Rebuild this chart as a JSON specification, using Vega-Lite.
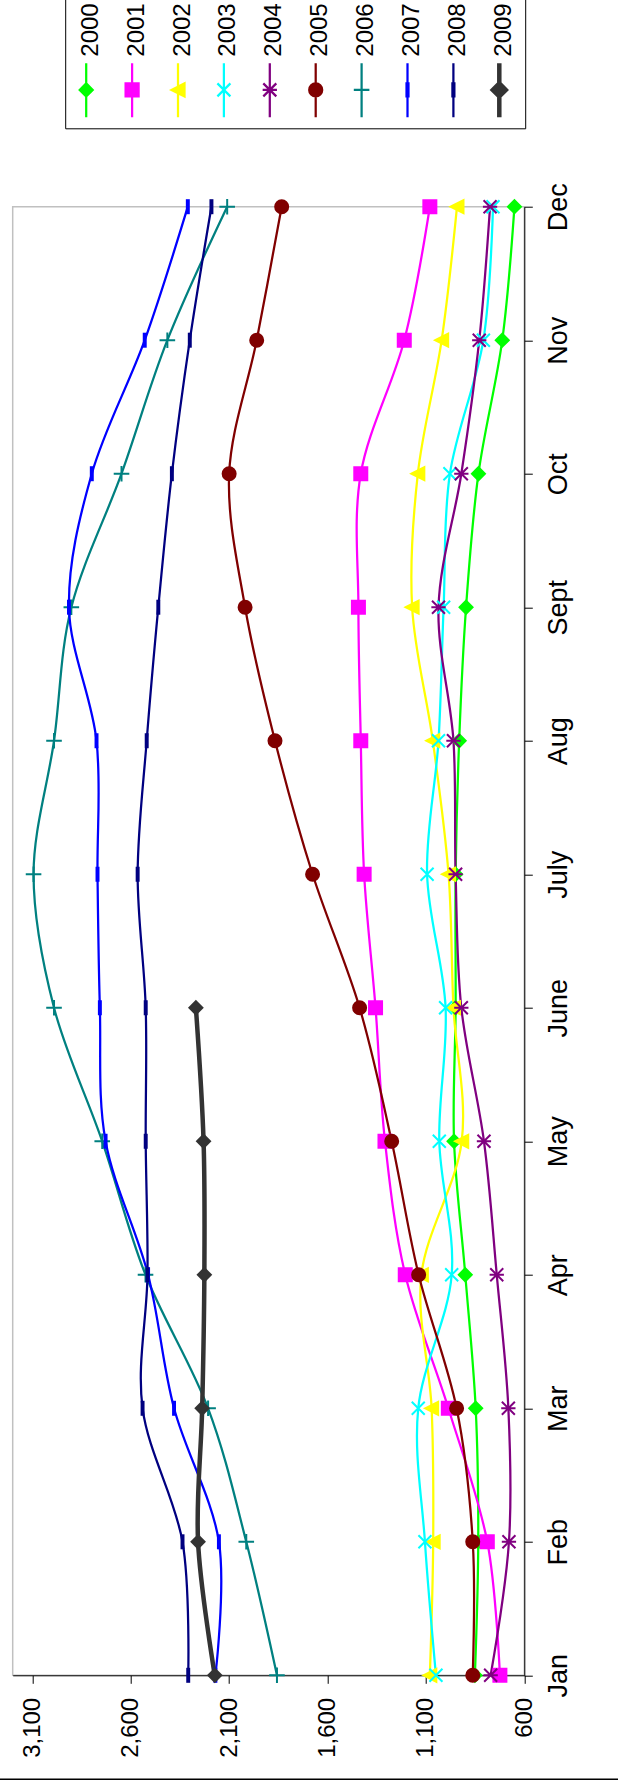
{
 "$schema": "https://vega.github.io/schema/vega-lite/v6.json",
 "width": 511.6,
 "height": 1468.6,
 "autosize": {"type": "none"},
 "padding": {"left": 12.7, "top": 206.7, "right": 93.7, "bottom": 112.7},
 "background": "white",
 "config": {"font": "Liberation Sans", "view": {"stroke": "#c0c0c0", "strokeWidth": 1.5}},
 "data": {"values": [
  {"s":"2000","month":"Jan","m":1,"v":851},{"s":"2000","month":"Feb","m":2,"v":834},{"s":"2000","month":"Mar","m":3,"v":847},{"s":"2000","month":"Apr","m":4,"v":900},{"s":"2000","month":"May","m":5,"v":957},{"s":"2000","month":"June","m":6,"v":949},{"s":"2000","month":"July","m":7,"v":949},{"s":"2000","month":"Aug","m":8,"v":931},{"s":"2000","month":"Sept","m":9,"v":896},{"s":"2000","month":"Oct","m":10,"v":833},{"s":"2000","month":"Nov","m":11,"v":712},{"s":"2000","month":"Dec","m":12,"v":650},
  {"s":"2001","month":"Jan","m":1,"v":724},{"s":"2001","month":"Feb","m":2,"v":788},{"s":"2001","month":"Mar","m":3,"v":986},{"s":"2001","month":"Apr","m":4,"v":1205},{"s":"2001","month":"May","m":5,"v":1308},{"s":"2001","month":"June","m":6,"v":1356},{"s":"2001","month":"July","m":7,"v":1414},{"s":"2001","month":"Aug","m":8,"v":1431},{"s":"2001","month":"Sept","m":9,"v":1443},{"s":"2001","month":"Oct","m":10,"v":1431},{"s":"2001","month":"Nov","m":11,"v":1210},{"s":"2001","month":"Dec","m":12,"v":1080},
  {"s":"2002","month":"Jan","m":1,"v":1080},{"s":"2002","month":"Feb","m":2,"v":1063},{"s":"2002","month":"Mar","m":3,"v":1071},{"s":"2002","month":"Apr","m":4,"v":1123},{"s":"2002","month":"May","m":5,"v":918},{"s":"2002","month":"June","m":6,"v":960},{"s":"2002","month":"July","m":7,"v":985},{"s":"2002","month":"Aug","m":8,"v":1065},{"s":"2002","month":"Sept","m":9,"v":1170},{"s":"2002","month":"Oct","m":10,"v":1141},{"s":"2002","month":"Nov","m":11,"v":1020},{"s":"2002","month":"Dec","m":12,"v":942},
  {"s":"2003","month":"Jan","m":1,"v":1049},{"s":"2003","month":"Feb","m":2,"v":1105},{"s":"2003","month":"Mar","m":3,"v":1139},{"s":"2003","month":"Apr","m":4,"v":969},{"s":"2003","month":"May","m":5,"v":1032},{"s":"2003","month":"June","m":6,"v":1000},{"s":"2003","month":"July","m":7,"v":1094},{"s":"2003","month":"Aug","m":8,"v":1036},{"s":"2003","month":"Sept","m":9,"v":1010},{"s":"2003","month":"Oct","m":10,"v":978},{"s":"2003","month":"Nov","m":11,"v":808},{"s":"2003","month":"Dec","m":12,"v":759},
  {"s":"2004","month":"Jan","m":1,"v":771},{"s":"2004","month":"Feb","m":2,"v":678},{"s":"2004","month":"Mar","m":3,"v":681},{"s":"2004","month":"Apr","m":4,"v":740},{"s":"2004","month":"May","m":5,"v":805},{"s":"2004","month":"June","m":6,"v":920},{"s":"2004","month":"July","m":7,"v":949},{"s":"2004","month":"Aug","m":8,"v":960},{"s":"2004","month":"Sept","m":9,"v":1036},{"s":"2004","month":"Oct","m":10,"v":920},{"s":"2004","month":"Nov","m":11,"v":829},{"s":"2004","month":"Dec","m":12,"v":774},
  {"s":"2005","month":"Jan","m":1,"v":862},{"s":"2005","month":"Feb","m":2,"v":862},{"s":"2005","month":"Mar","m":3,"v":944},{"s":"2005","month":"Apr","m":4,"v":1137},{"s":"2005","month":"May","m":5,"v":1274},{"s":"2005","month":"June","m":6,"v":1437},{"s":"2005","month":"July","m":7,"v":1676},{"s":"2005","month":"Aug","m":8,"v":1867},{"s":"2005","month":"Sept","m":9,"v":2019},{"s":"2005","month":"Oct","m":10,"v":2100},{"s":"2005","month":"Nov","m":11,"v":1960},{"s":"2005","month":"Dec","m":12,"v":1833},
  {"s":"2006","month":"Jan","m":1,"v":1857},{"s":"2006","month":"Feb","m":2,"v":2013},{"s":"2006","month":"Mar","m":3,"v":2207},{"s":"2006","month":"Apr","m":4,"v":2525},{"s":"2006","month":"May","m":5,"v":2745},{"s":"2006","month":"June","m":6,"v":2990},{"s":"2006","month":"July","m":7,"v":3094},{"s":"2006","month":"Aug","m":8,"v":2990},{"s":"2006","month":"Sept","m":9,"v":2902},{"s":"2006","month":"Oct","m":10,"v":2647},{"s":"2006","month":"Nov","m":11,"v":2414},{"s":"2006","month":"Dec","m":12,"v":2110},
  {"s":"2007","month":"Jan","m":1,"v":2170},{"s":"2007","month":"Feb","m":2,"v":2152},{"s":"2007","month":"Mar","m":3,"v":2380},{"s":"2007","month":"Apr","m":4,"v":2512},{"s":"2007","month":"May","m":5,"v":2728},{"s":"2007","month":"June","m":6,"v":2757},{"s":"2007","month":"July","m":7,"v":2769},{"s":"2007","month":"Aug","m":8,"v":2774},{"s":"2007","month":"Sept","m":9,"v":2914},{"s":"2007","month":"Oct","m":10,"v":2798},{"s":"2007","month":"Nov","m":11,"v":2529},{"s":"2007","month":"Dec","m":12,"v":2310},
  {"s":"2008","month":"Jan","m":1,"v":2308},{"s":"2008","month":"Feb","m":2,"v":2337},{"s":"2008","month":"Mar","m":3,"v":2540},{"s":"2008","month":"Apr","m":4,"v":2515},{"s":"2008","month":"May","m":5,"v":2524},{"s":"2008","month":"June","m":6,"v":2524},{"s":"2008","month":"July","m":7,"v":2565},{"s":"2008","month":"Aug","m":8,"v":2519},{"s":"2008","month":"Sept","m":9,"v":2460},{"s":"2008","month":"Oct","m":10,"v":2391},{"s":"2008","month":"Nov","m":11,"v":2300},{"s":"2008","month":"Dec","m":12,"v":2190},
  {"s":"2009","month":"Jan","m":1,"v":2173},{"s":"2009","month":"Feb","m":2,"v":2258},{"s":"2009","month":"Mar","m":3,"v":2237},{"s":"2009","month":"Apr","m":4,"v":2226},{"s":"2009","month":"May","m":5,"v":2230},{"s":"2009","month":"June","m":6,"v":2269}
 ]},
 "layer": [
  {
   "transform": [{"filter": "datum.s !== '2009'"}],
   "mark": {"type": "line", "interpolate": "cardinal", "strokeWidth": 2.25},
   "encoding": {
    "x": {"field": "v", "type": "quantitative", "scale": {"domain": [600, 3200], "reverse": true, "nice": false, "zero": false},
          "axis": {"orient": "bottom", "values": [600, 1100, 1600, 2100, 2600, 3100], "labelExpr": "format(datum.value, ',')", "title": null, "grid": false,
                   "labelAngle": -90, "labelAlign": "right", "labelBaseline": "middle", "labelFontSize": 24, "labelColor": "black", "labelPadding": 14,
                   "tickSize": 8, "tickColor": "black", "domainColor": "black", "labelOverlap": false}},
    "y": {"field": "month", "type": "nominal", "scale": {"domain": ["Dec","Nov","Oct","Sept","Aug","July","June","May","Apr","Mar","Feb","Jan"], "type": "point", "padding": 0},
          "axis": {"orient": "right", "title": null, "grid": false, "labelAngle": -90, "labelAlign": "center", "labelBaseline": "top", "labelFontSize": 27, "labelColor": "black", "labelPadding": 13,
                   "tickSize": 8, "tickColor": "black", "domainColor": "black"}},
    "stroke": {"field": "s", "type": "nominal", "scale": {"domain": ["2000","2001","2002","2003","2004","2005","2006","2007","2008","2009"], "range": ["#00FF00","#FF00FF","#FFFF00","#00FFFF","#800080","#800000","#008080","#0000FF","#000080","#333333"]}, "legend": null},
    "order": {"field": "m", "type": "quantitative"}
   }
  },
  {
   "transform": [{"filter": "datum.s === '2009'"}],
   "mark": {"type": "line", "interpolate": "cardinal", "strokeWidth": 4.5},
   "encoding": {
    "x": {"field": "v", "type": "quantitative", "scale": {"domain": [600, 3200], "reverse": true, "nice": false, "zero": false},
          "axis": {"orient": "bottom", "values": [600, 1100, 1600, 2100, 2600, 3100], "labelExpr": "format(datum.value, ',')", "title": null, "grid": false,
                   "labelAngle": -90, "labelAlign": "right", "labelBaseline": "middle", "labelFontSize": 24, "labelColor": "black", "labelPadding": 14,
                   "tickSize": 8, "tickColor": "black", "domainColor": "black", "labelOverlap": false}},
    "y": {"field": "month", "type": "nominal", "scale": {"domain": ["Dec","Nov","Oct","Sept","Aug","July","June","May","Apr","Mar","Feb","Jan"], "type": "point", "padding": 0}, "axis": null},
    "stroke": {"field": "s", "type": "nominal", "scale": {"domain": ["2000","2001","2002","2003","2004","2005","2006","2007","2008","2009"], "range": ["#00FF00","#FF00FF","#FFFF00","#00FFFF","#800080","#800000","#008080","#0000FF","#000080","#333333"]}, "legend": null},
    "order": {"field": "m", "type": "quantitative"}
   }
  },
  {
   "mark": {"type": "point", "opacity": 1, "strokeWidth": 2, "size": 169},
   "encoding": {
    "x": {"field": "v", "type": "quantitative", "scale": {"domain": [600, 3200], "reverse": true, "nice": false, "zero": false},
          "axis": {"orient": "bottom", "values": [600, 1100, 1600, 2100, 2600, 3100], "labelExpr": "format(datum.value, ',')", "title": null, "grid": false,
                   "labelAngle": -90, "labelAlign": "right", "labelBaseline": "middle", "labelFontSize": 24, "labelColor": "black", "labelPadding": 14,
                   "tickSize": 8, "tickColor": "black", "domainColor": "black", "labelOverlap": false}},
    "y": {"field": "month", "type": "nominal", "scale": {"domain": ["Dec","Nov","Oct","Sept","Aug","July","June","May","Apr","Mar","Feb","Jan"], "type": "point", "padding": 0}, "axis": null},
    "fill": {"field": "s", "type": "nominal", "scale": {"domain": ["2000","2001","2002","2003","2004","2005","2006","2007","2008","2009"], "range": ["#00FF00","#FF00FF","#FFFF00","#00FFFF","#800080","#800000","#008080","#0000FF","#000080","#333333"]}, "legend": null},
    "stroke": {"field": "s", "type": "nominal", "scale": {"domain": ["2000","2001","2002","2003","2004","2005","2006","2007","2008","2009"], "range": ["#00FF00","#FF00FF","#FFFF00","#00FFFF","#800080","#800000","#008080","#0000FF","#000080","#333333"]}, "legend": null},
    "shape": {"field": "s", "type": "nominal", "scale": {"domain": ["2000","2001","2002","2003","2004","2005","2006","2007","2008","2009"],
      "range": ["M0,-1L1,0L0,1L-1,0Z", "M-1,-1L1,-1L1,1L-1,1Z", "M-1,0L1,-1L1,1Z", "M-1,-1L1,1M-1,1L1,-1", "M-1,-1L1,1M-1,1L1,-1M-1.1,0L1.1,0", "M1,0A1,1,0,1,1,-1,0A1,1,0,1,1,1,0Z", "M-1.2,0L1.2,0M0,-1.2L0,1.2", "M-0.15,-1L0.15,-1L0.15,1L-0.15,1Z", "M-0.15,-1L0.15,-1L0.15,1L-0.15,1Z", "M0,-1L1,0L0,1L-1,0Z"]}, "legend": null}
   }
  },
  {
   "mark": {"type": "point", "opacity": 0, "strokeWidth": 2, "size": 169},
   "encoding": {
    "x": {"field": "v", "type": "quantitative", "scale": {"domain": [600, 3200], "reverse": true, "nice": false, "zero": false},
          "axis": {"orient": "bottom", "values": [600, 1100, 1600, 2100, 2600, 3100], "labelExpr": "format(datum.value, ',')", "title": null, "grid": false,
                   "labelAngle": -90, "labelAlign": "right", "labelBaseline": "middle", "labelFontSize": 24, "labelColor": "black", "labelPadding": 14,
                   "tickSize": 8, "tickColor": "black", "domainColor": "black", "labelOverlap": false}},
    "y": {"field": "month", "type": "nominal", "scale": {"domain": ["Dec","Nov","Oct","Sept","Aug","July","June","May","Apr","Mar","Feb","Jan"], "type": "point", "padding": 0}, "axis": null},
    "fill": {"field": "s", "type": "nominal", "scale": {"domain": ["2000","2001","2002","2003","2004","2005","2006","2007","2008","2009"], "range": ["#00FF00","#FF00FF","#FFFF00","#00FFFF","#800080","#800000","#008080","#0000FF","#000080","#333333"]},
      "legend": {"title": null, "orient": "none", "legendX": 52.5, "legendY": -212.4, "direction": "horizontal", "columns": 10, "symbolSize": 169, "symbolOpacity": 1, "clipHeight": 116, "labelFontSize": 24, "labelColor": "black", "labelAlign": "left", "labelBaseline": "middle", "labelOffset": -7.5, "columnPadding": 16.9, "padding": 9, "strokeColor": "black", "fillColor": "white",
        "encoding": {"labels": {"angle": {"value": -90}, "dx": {"value": 4.6}}, "symbols": {"strokeWidth": {"value": {"expr": "datum.value === '2009' ? 4.5 : 2.25"}}}}}},
    "stroke": {"field": "s", "type": "nominal", "scale": {"domain": ["2000","2001","2002","2003","2004","2005","2006","2007","2008","2009"], "range": ["#00FF00","#FF00FF","#FFFF00","#00FFFF","#800080","#800000","#008080","#0000FF","#000080","#333333"]},
      "legend": {"title": null, "orient": "none", "legendX": 52.5, "legendY": -212.4, "direction": "horizontal", "columns": 10, "symbolSize": 169, "symbolOpacity": 1, "clipHeight": 116, "labelFontSize": 24, "labelColor": "black", "labelAlign": "left", "labelBaseline": "middle", "labelOffset": -7.5, "columnPadding": 16.9, "padding": 9, "strokeColor": "black", "fillColor": "white",
        "encoding": {"labels": {"angle": {"value": -90}, "dx": {"value": 4.6}}, "symbols": {"strokeWidth": {"value": {"expr": "datum.value === '2009' ? 4.5 : 2.25"}}}}}},
    "shape": {"field": "s", "type": "nominal", "scale": {"domain": ["2000","2001","2002","2003","2004","2005","2006","2007","2008","2009"],
      "range": ["M0,0.3L0,8.6M0,3.4L1,4.4L0,5.4L-1,4.4Z", "M0,0.3L0,8.6M-1,3.4L1,3.4L1,5.4L-1,5.4Z", "M0,0.3L0,8.6M-1,4.4L1,3.4L1,5.4Z", "M0,0.3L0,8.6M-1,3.4L1,5.4M-1,5.4L1,3.4", "M0,0.3L0,8.6M-1,3.4L1,5.4M-1,5.4L1,3.4M-1.1,4.4L1.1,4.4", "M0,0.3L0,8.6M1,4.4A1,1,0,1,1,-1,4.4A1,1,0,1,1,1,4.4Z", "M0,0.3L0,8.6M-1.2,4.4L1.2,4.4", "M0,0.3L0,8.6M-0.15,3.4L0.15,3.4L0.15,5.4L-0.15,5.4Z", "M0,0.3L0,8.6M-0.15,3.4L0.15,3.4L0.15,5.4L-0.15,5.4Z", "M0,0.3L0,8.6M0,3.4L1,4.4L0,5.4L-1,4.4Z"]},
      "legend": {"title": null, "orient": "none", "legendX": 52.5, "legendY": -212.4, "direction": "horizontal", "columns": 10, "symbolSize": 169, "symbolOpacity": 1, "clipHeight": 116, "labelFontSize": 24, "labelColor": "black", "labelAlign": "left", "labelBaseline": "middle", "labelOffset": -7.5, "columnPadding": 16.9, "padding": 9, "strokeColor": "black", "fillColor": "white",
        "encoding": {"labels": {"angle": {"value": -90}, "dx": {"value": 4.6}}, "symbols": {"strokeWidth": {"value": {"expr": "datum.value === '2009' ? 4.5 : 2.25"}}}}}}
   }
  },
  {
   "data": {"values": [{}]},
   "mark": {"type": "rule", "stroke": "black", "strokeWidth": 1.5, "clip": false},
   "encoding": {
    "x": {"datum": 3264.6, "type": "quantitative", "scale": {"domain": [600, 3200], "reverse": true, "nice": false, "zero": false},
          "axis": {"orient": "bottom", "values": [600, 1100, 1600, 2100, 2600, 3100], "labelExpr": "format(datum.value, ',')", "title": null, "grid": false,
                   "labelAngle": -90, "labelAlign": "right", "labelBaseline": "middle", "labelFontSize": 24, "labelColor": "black", "labelPadding": 14,
                   "tickSize": 8, "tickColor": "black", "domainColor": "black", "labelOverlap": false}},
    "x2": {"datum": 123.5},
    "y": {"datum": -0.0708, "type": "quantitative", "scale": {"domain": [0, 1], "nice": false, "zero": false}, "axis": null}
   }
  }
 ],
 "resolve": {"scale": {"y": "independent", "shape": "independent", "fill": "independent", "stroke": "independent"}}
}
